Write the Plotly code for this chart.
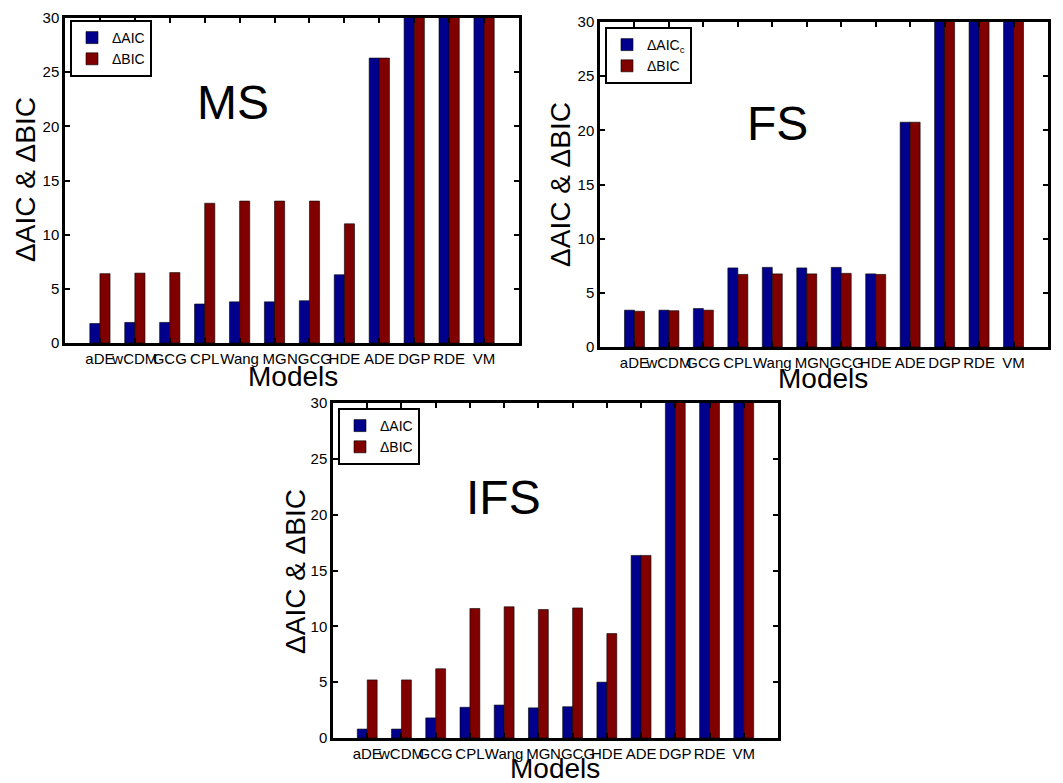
import plotly.graph_objects as go

models = ["aDE", "wCDM", "GCG", "CPL", "Wang", "MG", "NGCG", "HDE", "ADE", "DGP", "RDE", "VM"]

# values above 30 are off the scale in the reference (clipped at the axis top)
ms_aic = [1.8, 1.9, 1.9, 3.6, 3.8, 3.8, 3.9, 6.3, 26.3, 40, 40, 40]
ms_bic = [6.4, 6.45, 6.5, 12.9, 13.1, 13.1, 13.1, 11.0, 26.3, 40, 40, 40]

fs_aicc = [3.4, 3.4, 3.55, 7.3, 7.35, 7.3, 7.35, 6.75, 20.75, 40, 40, 40]
fs_bic = [3.3, 3.35, 3.4, 6.7, 6.75, 6.75, 6.8, 6.7, 20.75, 40, 40, 40]

ifs_aic = [0.8, 0.8, 1.8, 2.75, 2.95, 2.7, 2.8, 5.0, 16.35, 40, 40, 40]
ifs_bic = [5.2, 5.2, 6.2, 11.6, 11.75, 11.5, 11.65, 9.35, 16.35, 40, 40, 40]

BLUE = "rgb(0,0,140)"
RED = "rgb(128,0,0)"
FONT = "Arial, Liberation Sans, sans-serif"
OFF = 8  # page body margin
W, H = 1063 - OFF, 783 - OFF

def px(x):
    return (x - OFF) / W

def py(y):
    return 1 - (y - OFF) / H

panels = [
    dict(name="MS", aic=ms_aic, bic=ms_bic, aic_label="ΔAIC",
         box=(65, 519, 18, 343), leg=(70, 20), label=(233, 102),
         ytitle=(25, 180), xtitle=(293, 377)),
    dict(name="FS", aic=fs_aicc, bic=fs_bic, aic_label="ΔAIC<sub>c</sub>",
         box=(600, 1048, 22, 347), leg=(605, 27), label=(777, 123),
         ytitle=(560, 185), xtitle=(823, 378)),
    dict(name="IFS", aic=ifs_aic, bic=ifs_bic, aic_label="ΔAIC",
         box=(333, 778, 403, 738), leg=(338, 408), label=(503, 498),
         ytitle=(295, 572), xtitle=(555, 768)),
]

fig = go.Figure()
annotations = []
layout = {}

for i, p in enumerate(panels):
    k = "" if i == 0 else str(i + 1)
    xa, ya = "x" + k, "y" + k
    leg = "legend" + k
    fig.add_trace(go.Bar(x=models, y=p["aic"], name=p["aic_label"], marker_color=BLUE,
                         marker_line=dict(color="black", width=0.6),
                         xaxis=xa, yaxis=ya, legend=leg))
    fig.add_trace(go.Bar(x=models, y=p["bic"], name="ΔBIC", marker_color=RED,
                         marker_line=dict(color="black", width=0.6),
                         xaxis=xa, yaxis=ya, legend=leg))
    x0, x1, y0, y1 = p["box"]
    layout["xaxis" + k] = dict(
        domain=[px(x0), px(x1)], anchor=ya, range=[-1, 12], automargin=False,
        showline=True, linecolor="black", linewidth=2.5, mirror="ticks",
        ticks="inside", ticklen=5, tickwidth=1.5, tickcolor="black",
        tickangle=0, tickfont=dict(size=15, color="black", family=FONT),
        ticklabeloverflow="allow",
        showgrid=False, zeroline=False, fixedrange=True,
    )
    layout["yaxis" + k] = dict(
        domain=[py(y1), py(y0)], anchor=xa, range=[0, 30], automargin=False,
        tickvals=[0, 5, 10, 15, 20, 25, 30],
        showline=True, linecolor="black", linewidth=2.5, mirror="ticks",
        ticks="inside", ticklen=5, tickwidth=1.5, tickcolor="black",
        tickfont=dict(size=15, color="black", family=FONT),
        ticklabeloverflow="allow",
        showgrid=False, zeroline=False, fixedrange=True,
    )
    lx, ly = p["leg"]
    layout[leg] = dict(
        x=px(lx), y=py(ly), xanchor="left", yanchor="top",
        bordercolor="black", borderwidth=2, bgcolor="white",
        font=dict(size=14, color="black", family=FONT),
        tracegroupgap=2, itemwidth=30,
    )
    common = dict(xref="paper", yref="paper", showarrow=False,
                  xanchor="center", yanchor="middle")
    annotations.append(dict(text=p["name"], x=px(p["label"][0]), y=py(p["label"][1]),
                            font=dict(size=48, color="black", family=FONT), **common))
    annotations.append(dict(text="ΔAIC & ΔBIC", x=px(p["ytitle"][0]), y=py(p["ytitle"][1]),
                            textangle=-90,
                            font=dict(size=28, color="black", family=FONT), **common))
    annotations.append(dict(text="Models", x=px(p["xtitle"][0]), y=py(p["xtitle"][1]),
                            font=dict(size=28, color="black", family=FONT), **common))

fig.update_layout(
    width=W, height=H, margin=dict(l=0, r=0, t=0, b=0, autoexpand=False),
    paper_bgcolor="white", plot_bgcolor="white",
    barmode="group", bargap=0.42, bargroupgap=0,
    annotations=annotations, showlegend=True,
    font=dict(family=FONT, color="black"),
    **layout,
)

fig.write_html("out.html", config={"displayModeBar": False})
